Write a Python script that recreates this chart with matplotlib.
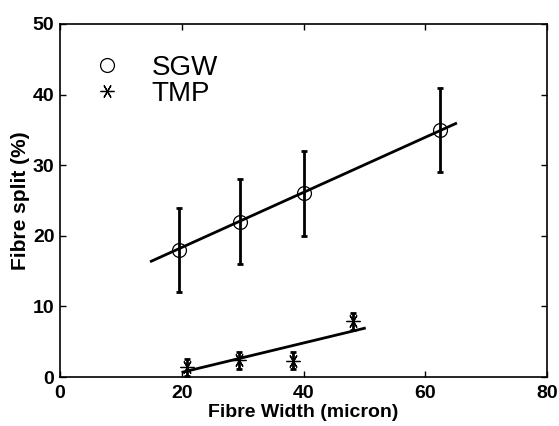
import numpy as np
import matplotlib.pyplot as plt

plt.rcParams["font.family"] = ["Liberation Sans", "DejaVu Sans"]

# SGW data
sgw_width = [19.5, 29.5, 40.0, 62.5]
sgw_split = [18.0, 22.0, 26.0, 35.0]
sgw_err = [6.0, 6.0, 6.0, 6.0]
sgw_fit_x = [15.0, 65.0]
sgw_fit_y = [16.4, 35.9]

# TMP data
tmp_width = [20.8, 29.4, 38.3, 48.2]
tmp_split = [1.4, 2.4, 2.3, 7.9]
tmp_err = [1.2, 1.2, 1.2, 1.2]
tmp_fit_x = [20.2, 50.0]
tmp_fit_y = [0.7, 6.9]

asterisk = (6, 2, 90)

fig = plt.figure(figsize=(5.59, 4.26), dpi=100)
ax = fig.add_axes([60 / 559, 49 / 426, 487 / 559, 353 / 426])

ax.errorbar(sgw_width, sgw_split, yerr=sgw_err, fmt="none", ecolor="black",
            elinewidth=2, capsize=2.5, capthick=2)
ax.plot(sgw_width, sgw_split, "o", mfc="none", mec="black", ms=10, mew=0.9,
        label="SGW")
ax.plot(sgw_fit_x, sgw_fit_y, color="black", lw=2)

ax.errorbar(tmp_width, tmp_split, yerr=tmp_err, fmt="none", ecolor="black",
            elinewidth=2, capsize=2, capthick=2)
ax.plot(tmp_width, tmp_split, linestyle="none", color="black", ms=10, mew=0.9,
        marker=asterisk, label="TMP")
ax.plot(tmp_fit_x, tmp_fit_y, color="black", lw=2)

ax.set_xlim(0, 80)
ax.set_ylim(0, 50)
ax.set_xticks([0, 20, 40, 60, 80])
ax.set_yticks([0, 10, 20, 30, 40, 50])
ax.tick_params(direction="in", top=True, right=True, length=4, width=1,
               labelsize=14)
ax.tick_params(axis="x", pad=6)
ax.tick_params(axis="y", pad=4)
for lab in ax.get_xticklabels() + ax.get_yticklabels():
    lab.set_fontweight("bold")
for sp in ax.spines.values():
    sp.set_linewidth(1.2)

ax.set_xlabel("Fibre Width (micron)", fontsize=14, fontweight="bold", labelpad=1)
ax.set_ylabel("Fibre split (%)", fontsize=15, fontweight="bold", labelpad=2)

ax.legend(loc="upper left", bbox_to_anchor=(0.046, 0.945), frameon=False,
          fontsize=20, handlelength=1.0, handletextpad=1.1, labelspacing=0.0,
          borderaxespad=0)

plt.savefig("out.png", dpi=100)
plt.close()
